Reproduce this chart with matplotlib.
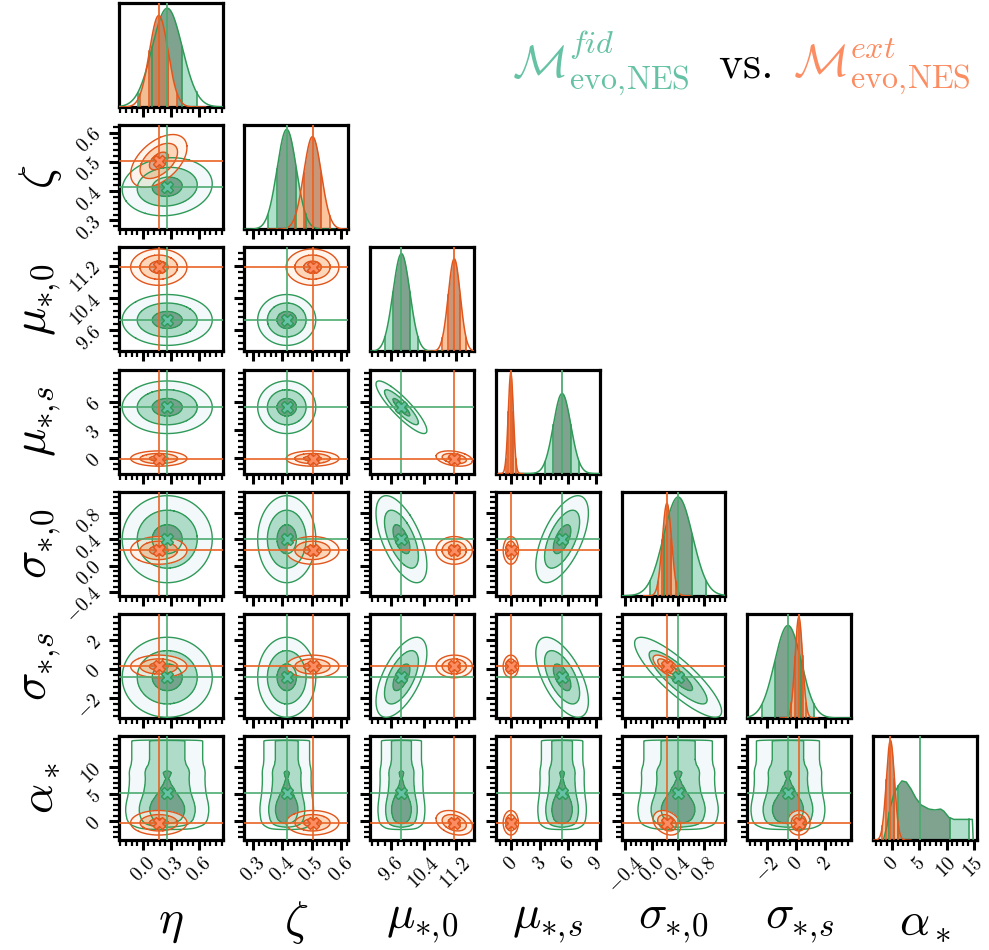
import numpy as np
import matplotlib
matplotlib.use("Agg")
import matplotlib.pyplot as plt
from matplotlib.ticker import FixedLocator, FixedFormatter, AutoMinorLocator, NullFormatter

plt.rcParams['mathtext.fontset'] = 'cm'
plt.rcParams['font.family'] = ['DejaVu Serif']

# ---------------- data ----------------
param_labels = [r'$\eta$', r'$\zeta$', r'$\mu_{*,\!0}$', r'$\mu_{*,\!s}$',
                r'$\sigma_{*,\!0}$', r'$\sigma_{*,\!s}$', r'$\alpha_*$']
param_ranges = [(-0.26, 0.85), (0.27, 0.625), (9.07, 11.65), (-1.65, 9.4),
                (-0.46, 1.12), (-3.36, 3.82), (-3.5, 15.6)]
x_ticks = [[0.0, 0.3, 0.6], [0.3, 0.4, 0.5, 0.6], [9.6, 10.4, 11.2], [0, 3, 6, 9],
           [-0.4, 0.0, 0.4, 0.8], [-2, 0, 2], [0, 5, 10, 15]]
x_ticklabels = [['0.0', '0.3', '0.6'], ['0.3', '0.4', '0.5', '0.6'], ['9.6', '10.4', '11.2'],
                ['0', '3', '6', '9'], ['-0.4', '0.0', '0.4', '0.8'], ['-2', '0', '2'],
                ['0', '5', '10', '15']]
y_ticks = [[], [0.3, 0.4, 0.5, 0.6], [9.6, 10.4, 11.2], [0, 3, 6],
           [-0.4, 0.0, 0.4, 0.8], [-2, 0, 2], [0, 5, 10]]
y_ticklabels = [[], ['0.3', '0.4', '0.5', '0.6'], ['9.6', '10.4', '11.2'], ['0', '3', '6'],
                ['-0.4', '0.0', '0.4', '0.8'], ['-2', '0', '2'], ['0', '5', '10']]

# fiducial model (green): centres, widths, 1D peak heights (fraction of panel)
fid_center = [0.26, 0.415, 9.85, 5.4, 0.40, -0.55, 5.1]
fid_width = [0.16, 0.033, 0.21, 0.93, 0.22, 0.92, None]
fid_peak = [0.95, 0.96, 0.94, 0.77, 0.95, 0.89, None]
fid_corr = {(0, 1): 0.1, (2, 3): -0.88, (2, 4): -0.6, (3, 4): 0.6,
            (2, 5): 0.6, (3, 5): -0.6, (4, 5): -0.85}
# alpha_* marginal of the fiducial model (non-Gaussian), heights as panel fraction
fid_alpha_x = [-1.6, -1.0, -0.4, 0.3, 1.1, 1.8, 2.6, 3.4, 4.3, 5.3, 6.7, 7.8,
               8.9, 9.5, 10.4, 11.3, 13.0, 14.75, 14.9]
fid_alpha_h = [0.0, 0.12, 0.3, 0.44, 0.52, 0.57, 0.56, 0.5, 0.41, 0.34, 0.3, 0.29,
               0.3, 0.28, 0.22, 0.2, 0.2, 0.2, 0.0]

# extended model (orange)
ext_center = [0.17, 0.503, 11.16, -0.05, 0.23, 0.2, -0.3]
ext_width = [0.10, 0.030, 0.15, 0.27, 0.07, 0.26, 0.75]
ext_peak = [0.88, 0.89, 0.89, 0.97, 0.89, 0.97, 0.96]
ext_corr = {(0, 1): 0.5, (2, 3): -0.3, (4, 5): -0.7, (4, 6): -0.3, (2, 6): -0.3}

contour_mass = [0.393, 0.865, 0.989]

fid = dict(center=fid_center, width=fid_width, peak=fid_peak, corr=fid_corr,
           table={6: (fid_alpha_x, fid_alpha_h)},
           line='#2f9a58', med='#4dab72', light='#b0e0cb', dark='#7fa38f',
           f2=['#f3f8fb', '#aadbc6', '#6f9e88'], mark='#66c2a5', alpha=1.0, alpha2=0.95)
ext = dict(center=ext_center, width=ext_width, peak=ext_peak, corr=ext_corr,
           table={},
           line='#e0561c', med='#ea6424', light='#fdb98a', dark='#c0845f',
           f2=['#fff1e6', '#fdc49a', '#c98a66'], mark='#fc8d62', alpha=0.85, alpha2=0.7)
models = [fid, ext]


def grid_for(m, k, n=400):
    if k in m['table']:
        tx = m['table'][k][0]
        return np.linspace(min(tx), max(tx), n)
    c, w = m['center'][k], m['width'][k]
    return np.linspace(c - 5 * w, c + 5 * w, n)


def shape1d(m, k, x):
    if k in m['table']:
        tx, th = m['table'][k]
        return np.interp(x, tx, th, left=0, right=0)
    c, w = m['center'][k], m['width'][k]
    return np.exp(-0.5 * ((x - c) / w) ** 2)


def height1d(m, k, x):
    if k in m['table']:
        return shape1d(m, k, x)
    return shape1d(m, k, x) * m['peak'][k]


def dens2d(m, i, j, X, Y):
    if i in m['table'] or j in m['table']:
        return shape1d(m, i, X) * shape1d(m, j, Y)
    r = m['corr'].get((min(i, j), max(i, j)), 0.0)
    dx = (X - m['center'][i]) / m['width'][i]
    dy = (Y - m['center'][j]) / m['width'][j]
    return np.exp(-0.5 / (1 - r * r) * (dx * dx - 2 * r * dx * dy + dy * dy))


def hpd_levels(Z, fracs):
    z = np.sort(Z.ravel())[::-1]
    c = np.cumsum(z)
    c /= c[-1]
    return [z[min(np.searchsorted(c, f), len(z) - 1)] for f in fracs]


def draw_diag(ax, m, k):
    x = grid_for(m, k, 1500)
    h = height1d(m, k, x)
    cdf = np.cumsum(shape1d(m, k, x))
    cdf /= cdf[-1]
    q = np.interp([0.025, 0.16, 0.84, 0.975], cdf, x)

    def band(lo, hi, color):
        sel = (x > lo) & (x < hi)
        xs = np.concatenate([[lo], x[sel], [hi]])
        ys = np.interp(xs, x, h)
        ax.fill_between(xs, 0, ys, color=color, alpha=m['alpha'], lw=0, zorder=2)

    band(q[0], q[1], m['light'])
    band(q[2], q[3], m['light'])
    band(q[1], q[2], m['dark'])
    ax.plot(x, h, color=m['line'], lw=1.1, zorder=3)
    for v in q:
        ax.plot([v, v], [0, np.interp(v, x, h)], color=m['line'], lw=1.1, zorder=3)
    ax.axvline(m['center'][k], color=m['med'], lw=1.3, zorder=4)


def draw_2d(ax, m, i, j):
    gx = grid_for(m, i, 260)
    gy = grid_for(m, j, 260)
    X, Y = np.meshgrid(gx, gy)
    Z = dens2d(m, i, j, X, Y)
    t1, t2, t3 = hpd_levels(Z, contour_mass)
    ax.contourf(X, Y, Z, levels=[t3, t2, t1, Z.max() * 1.01], colors=m['f2'],
                alpha=m['alpha2'], zorder=2)
    ax.contour(X, Y, Z, levels=[t3, t2, t1], colors=m['line'], linewidths=1.0, zorder=3)


def style_axis(axis, ticks, labels, show_labels):
    axis.set_major_locator(FixedLocator(ticks))
    axis.set_minor_locator(AutoMinorLocator(5))
    if show_labels:
        axis.set_major_formatter(FixedFormatter(['$' + s + '$' for s in labels]))
    else:
        axis.set_major_formatter(NullFormatter())


# ---------------- figure ----------------
W, H = 989, 950
fig = plt.figure(figsize=(W / 100, H / 100), dpi=100)
n = len(param_labels)
pw, ph = 104.0, 104.0
col_left = [118.5 + 125.75 * j for j in range(n)]
row_top = [3.0 + 122.2 * i for i in range(n)]

for i in range(n):
    for j in range(i + 1):
        ax = fig.add_axes([col_left[j] / W, 1 - (row_top[i] + ph) / H, pw / W, ph / H])
        for s in ax.spines.values():
            s.set_linewidth(2.3)
        ax.set_xlim(*param_ranges[j])
        if i == j:
            for m in models:
                draw_diag(ax, m, i)
            ax.set_ylim(0, 1.0)
            ax.set_yticks([])
        else:
            for m in models:
                draw_2d(ax, m, j, i)
            for m in models:
                ax.axvline(m['center'][j], color=m['med'], lw=1.2, zorder=5)
                ax.axhline(m['center'][i], color=m['med'], lw=1.2, zorder=5)
            for m in models:
                ax.plot(m['center'][j], m['center'][i], marker='X', ms=9,
                        mfc=m['mark'], mec=m['line'], mew=1.0, zorder=6)
            ax.set_ylim(*param_ranges[i])
            style_axis(ax.yaxis, y_ticks[i], y_ticklabels[i], j == 0)
        style_axis(ax.xaxis, x_ticks[j], x_ticklabels[j], i == n - 1)
        ax.tick_params(which='major', direction='out', length=7, width=2.2,
                       top=False, right=False, labelsize=14, pad=3)
        ax.tick_params(which='minor', direction='out', length=4, width=1.6,
                       top=False, right=False)
        if i == n - 1:
            for lab in ax.get_xticklabels():
                lab.set_rotation(45)
        if j == 0 and i > 0:
            for lab in ax.get_yticklabels():
                lab.set_rotation(45)

# axis labels
for k in range(n):
    fig.text((col_left[k] + pw / 2) / W, 1 - 922 / H, param_labels[k],
             fontsize=34, ha='center', va='center')
for k in range(1, n):
    fig.text(40 / W, 1 - (row_top[k] + ph / 2) / H, param_labels[k],
             fontsize=34, ha='center', va='center', rotation=90)

# title
fig.text(512 / W, 1 - 78 / H, r'$\mathcal{M}^{fid}_{\mathrm{evo,\!NES}}$',
         color='#66c2a5', fontsize=33, ha='left', va='baseline')
fig.text(718 / W, 1 - 78 / H, r'$\mathrm{vs.}$', color='black', fontsize=33,
         ha='left', va='baseline')
fig.text(793 / W, 1 - 78 / H, r'$\mathcal{M}^{ext}_{\mathrm{evo,\!NES}}$',
         color='#fc8d62', fontsize=33, ha='left', va='baseline')

fig.savefig('out.png', dpi=100)
